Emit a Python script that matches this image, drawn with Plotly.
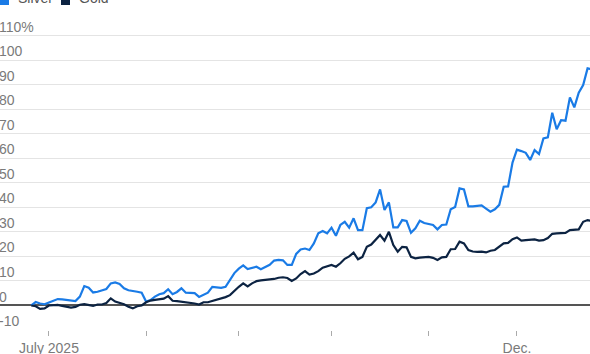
import pandas as pd
import plotly.graph_objects as go

# Trading days (US market) from June 25 to Dec 24, 2025
holidays = ["2025-07-04", "2025-09-01", "2025-11-27"]
dates = [d.strftime("%Y-%m-%d") for d in pd.bdate_range("2025-06-25", "2025-12-24")
         if d.strftime("%Y-%m-%d") not in holidays]

silver = [
    0.0, 1.4, 0.8, 0.5, 1.2, 1.8, 2.6, 2.5, 2.3, 2.2,
    1.8, 3.6, 7.9, 7.2, 5.3, 5.6, 6.0, 6.7, 9.0, 9.4,
    8.8, 7.0, 6.2, 6.0, 5.6, 5.2, 1.6, 2.2, 3.6, 4.6,
    5.0, 6.6, 4.6, 5.5, 7.0, 5.2, 5.2, 5.0, 3.5, 4.3,
    5.2, 7.6, 7.3, 7.2, 7.6, 10.5, 13.2, 15.0, 16.3, 14.8,
    15.2, 15.8, 14.8, 15.6, 16.6, 18.3, 18.6, 18.4, 16.5, 16.5,
    21.0, 22.8, 23.2, 22.6, 25.3, 29.4, 30.3, 29.4, 31.7, 28.4,
    32.8, 34.1, 31.7, 35.5, 30.7, 30.7, 39.6, 40.0, 42.0, 47.3,
    38.9, 42.0, 31.8, 31.8, 34.8, 34.4, 29.6, 31.4, 34.5, 33.6,
    33.3, 32.8, 31.0, 32.8, 33.0, 39.2, 40.1, 47.7, 47.3, 40.4,
    40.4, 40.5, 40.8, 39.5, 38.2, 39.2, 41.0, 48.4, 48.5, 58.2,
    63.5, 62.9, 62.2, 59.3, 63.3, 61.7, 68.1, 68.5, 78.5, 71.8,
    75.5, 75.3, 84.8, 80.7, 86.7, 89.8, 96.6, 96.2,
]

gold = [
    0.0, -0.3, -1.4, -1.2, 0.0, 0.2, 0.2, -0.2, -0.5, -0.9,
    -0.6, 0.3, 0.5, 0.1, -0.2, 0.4, 0.4, 1.0, 2.9, 1.6,
    1.0, 0.5, -0.5, -1.2, -0.3, 0.0, 1.3, 2.0, 2.3, 2.4,
    2.8, 3.8, 1.9, 1.8, 1.6, 1.5, 1.0, 0.8, 0.4, 1.3,
    1.3, 1.8, 2.4, 2.8, 3.4, 4.2, 6.0, 7.6, 9.0, 7.8,
    9.0, 9.9, 10.2, 10.3, 10.6, 10.8, 11.3, 11.5, 11.2, 10.0,
    11.0, 12.8, 14.0, 12.6, 13.0, 14.0, 15.4, 16.0, 16.5, 15.8,
    17.2, 19.0, 20.0, 21.5, 18.8, 19.8, 23.9, 24.8, 26.6, 28.7,
    26.4, 30.0, 24.6, 21.9, 23.9, 23.7, 19.8, 19.2, 19.5, 19.8,
    19.8, 19.4, 18.5, 19.6, 19.8, 22.9, 23.0, 26.0, 25.3, 22.6,
    22.0, 21.8, 21.9, 21.6, 22.3, 22.6, 23.8, 25.3, 25.5, 27.0,
    27.7, 26.4, 26.6, 26.9, 26.9, 26.4, 26.6, 27.5, 29.2, 29.4,
    29.5, 29.6, 30.7, 30.7, 31.0, 34.1, 34.8, 34.4,
]

series_names = ["Silver", "Gold"]
series_colors = ["#1a7be6", "#0c2342"]

y_ticks = [-10, 0, 10, 20, 30, 40, 50, 60, 70, 80, 90, 100, 110]
y_labels = ["-10", "0", "10", "20", "30", "40", "50", "60", "70", "80", "90", "100", "110%"]

x_ticks = ["2025-07-01", "2025-08-01", "2025-09-02", "2025-10-01", "2025-10-31", "2025-12-01"]
x_labels = ["July 2025", "", "", "", "", "Dec."]

FONT = "Liberation Sans, Arial, sans-serif"
GREY = "#7a7a7a"
W, H = 590, 354
PLOT_H = 330  # plot area height in px (top margin 0, bottom margin 24)

fig = go.Figure()
for name, vals, col in zip(series_names, [silver, gold], series_colors):
    fig.add_trace(go.Scatter(x=dates[:len(vals)], y=vals, mode="lines", name=name,
                             line=dict(color=col, width=2.2), showlegend=False))

# Legend (top-left, partly cut off by the top edge as in the original)
legend_x = [0, 61]  # px of swatch left edge
for name, col, lx in zip(series_names, series_colors, legend_x):
    fig.add_shape(type="rect", xref="paper", yref="paper",
                  x0=lx / W, x1=(lx + 9) / W, y0=1 - 5 / PLOT_H, y1=1 + 4 / PLOT_H,
                  fillcolor=col, line=dict(width=0), layer="above")
    fig.add_annotation(text=name, xref="paper", yref="paper", x=(lx + 16) / W,
                       y=1 - 8 / PLOT_H, xanchor="left", yanchor="bottom", showarrow=False,
                       font=dict(family=FONT, size=14, color="#555"))

fig.update_layout(
    width=W, height=H,
    margin=dict(l=0, r=0, t=0, b=H - PLOT_H, autoexpand=False),
    paper_bgcolor="white", plot_bgcolor="white",
    font=dict(family=FONT, size=14, color=GREY),
    showlegend=False,
    xaxis=dict(type="category", range=[-7.09, 126.55], tickmode="array",
               tickvals=x_ticks, ticktext=x_labels, ticks="outside", ticklen=5,
               tickcolor="#aaaaaa", tickwidth=1, showgrid=False, showline=False,
               zeroline=False, tickfont=dict(size=14, color=GREY)),
    yaxis=dict(range=[-10, 124.47], tickmode="array", tickvals=y_ticks, ticktext=y_labels,
               ticklabelposition="inside top", ticklabelstandoff=-4, ticklabelshift=1,
               showgrid=True, gridcolor="#e4e4e4",
               gridwidth=1, zeroline=True, zerolinecolor="#555555", zerolinewidth=1.5,
               showline=False, ticks="", tickfont=dict(size=14, color=GREY)),
)

fig.write_html("out.html")
